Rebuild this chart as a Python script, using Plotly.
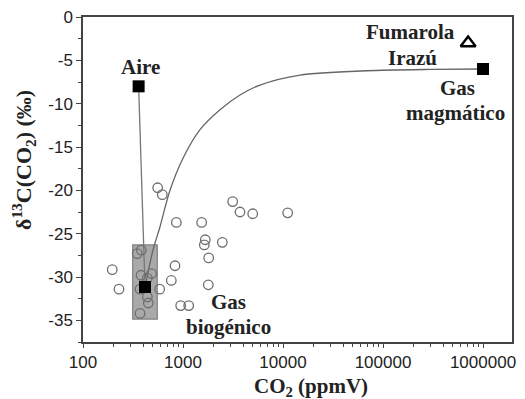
import plotly.graph_objects as go

# Open circles: soil gas samples (CO2 ppmV, d13C permil)
sample_co2 = [558, 621, 3140, 3715, 4977, 11140, 858, 1537, 1671, 1633, 2473, 1806,
              383, 349, 196, 229, 832, 764, 1791, 584, 948, 1140, 372,
              380, 486, 440, 372, 440, 450]
sample_d13c = [-19.7, -20.5, -21.3, -22.5, -22.7, -22.6, -23.7, -23.7, -25.7, -26.3, -26.0, -27.8,
               -26.9, -27.3, -29.15, -31.4, -28.7, -30.4, -30.9, -31.4, -33.3, -33.3, -34.2,
               -29.8, -29.6, -30.15, -31.4, -32.3, -33.0]

# End members (filled squares)
end_co2 = [360, 1000000, 417]
end_d13c = [-8.0, -6.0, -31.15]

# Fumarola Irazú (open triangle)
fum_co2 = [710000]
fum_d13c = [-3.0]

# Air - biogenic line
air_co2 = [360, 417]
air_d13c = [-8.0, -31.15]

# Mixing curve biogenic - magmatic
mix_co2 = [417, 501, 589, 741, 1000, 1479, 2344, 3715, 5888, 14800, 69000, 300000, 1000000]
mix_d13c = [-31.15, -26.9, -24.2, -20.0, -16.3, -13.0, -10.7, -9.0, -7.85, -6.7, -6.2, -6.05, -6.0]

# Biogenic gas box
box_co2 = [314, 553]
box_d13c = [-26.3, -34.85]

x_tickvals = [100, 1000, 10000, 100000, 1000000]
x_ticktext = ["100", "1000", "10000", "100000", "1000000"]
y_tickvals = [0, -5, -10, -15, -20, -25, -30, -35]
y_ticktext = ["0", "-5", "-10", "-15", "-20", "-25", "-30", "-35"]

SERIF = "Liberation Serif"
SANS = "Liberation Sans"

fig = go.Figure()

fig.add_shape(type="rect", xref="x", yref="y",
              x0=box_co2[0], x1=box_co2[1], y0=box_d13c[0], y1=box_d13c[1],
              fillcolor="rgba(145,145,145,0.78)", line=dict(color="#808080", width=1.2),
              layer="below")

fig.add_trace(go.Scatter(x=mix_co2, y=mix_d13c, mode="lines",
                         line=dict(color="#666666", width=1.3, shape="spline", smoothing=0.8),
                         hoverinfo="skip"))
fig.add_trace(go.Scatter(x=air_co2, y=air_d13c, mode="lines",
                         line=dict(color="#777777", width=1.3), hoverinfo="skip"))
fig.add_trace(go.Scatter(x=sample_co2, y=sample_d13c, mode="markers",
                         marker=dict(symbol="circle-open", size=9.5, color="#6e6e6e",
                                     line=dict(width=1.3, color="#6e6e6e"))))
fig.add_trace(go.Scatter(x=end_co2, y=end_d13c, mode="markers",
                         marker=dict(symbol="square", size=12, color="black")))
fig.add_trace(go.Scatter(x=fum_co2, y=fum_d13c, mode="markers",
                         marker=dict(symbol="triangle-up-open", size=13, color="black",
                                     line=dict(width=2.4, color="black"))))

def lab(text, x, y, xanchor="center"):
    fig.add_annotation(text=text, x=x, y=y, xref="x", yref="y", showarrow=False,
                       xanchor=xanchor, yanchor="middle",
                       font=dict(family=SERIF, size=21, color="#222222"))

lab("<b>Aire</b>", 2.57, -5.8)
lab("<b>Fumarola</b>", 5.27, -1.75)
lab("<b>Irazú</b>", 5.29, -4.75)
lab("<b>Gas</b>", 5.74, -8.2)
lab("<b>magmático</b>", 5.72, -11.1)
lab("<b>Gas</b>", 3.45, -32.9)
lab("<b>biogénico</b>", 3.45, -35.8)

fig.add_annotation(text="<b>δ<sup>13</sup>C(CO<sub>2</sub>) (‰)</b>", xref="paper", yref="paper",
                   x=-0.1375, y=0.56, textangle=-90, showarrow=False,
                   xanchor="center", yanchor="middle",
                   font=dict(family=SERIF, size=22, color="#222222"))
fig.add_annotation(text="<b>CO<sub>2</sub> (ppmV)</b>", xref="paper", yref="paper",
                   x=0.531, y=-0.137, showarrow=False, xanchor="center", yanchor="middle",
                   font=dict(family=SERIF, size=21, color="#222222"))

fig.update_xaxes(type="log", range=[2, 6.29], tickvals=x_tickvals, ticktext=x_ticktext,
                 ticks="outside", ticklen=4, tickwidth=1.2, tickcolor="#444",
                 minor=dict(ticks="outside", ticklen=3, tickcolor="#444", dtick="D1"),
                 showline=True, linecolor="#444", linewidth=1.5, mirror=True,
                 showgrid=False, zeroline=False, automargin=False,
                 ticklabeloverflow="allow",
                 tickfont=dict(family=SANS, size=17, color="#222222"))
fig.update_yaxes(range=[-37.5, 0], tickvals=y_tickvals, ticktext=y_ticktext,
                 ticks="outside", ticklen=5, tickwidth=1.2, tickcolor="#444",
                 minor=dict(ticks="outside", ticklen=3, tickcolor="#444", dtick=2.5),
                 showline=True, linecolor="#444", linewidth=1.5, mirror=True,
                 showgrid=False, zeroline=False, automargin=False,
                 ticklabeloverflow="allow",
                 tickfont=dict(family=SANS, size=17, color="#222222"))

# page body has an 8px default margin; figure is sized/offset to compensate
fig.update_layout(width=517, height=391, margin=dict(l=75, r=13, t=9, b=57),
                  paper_bgcolor="white", plot_bgcolor="white", showlegend=False)

fig.write_html("out.html")
